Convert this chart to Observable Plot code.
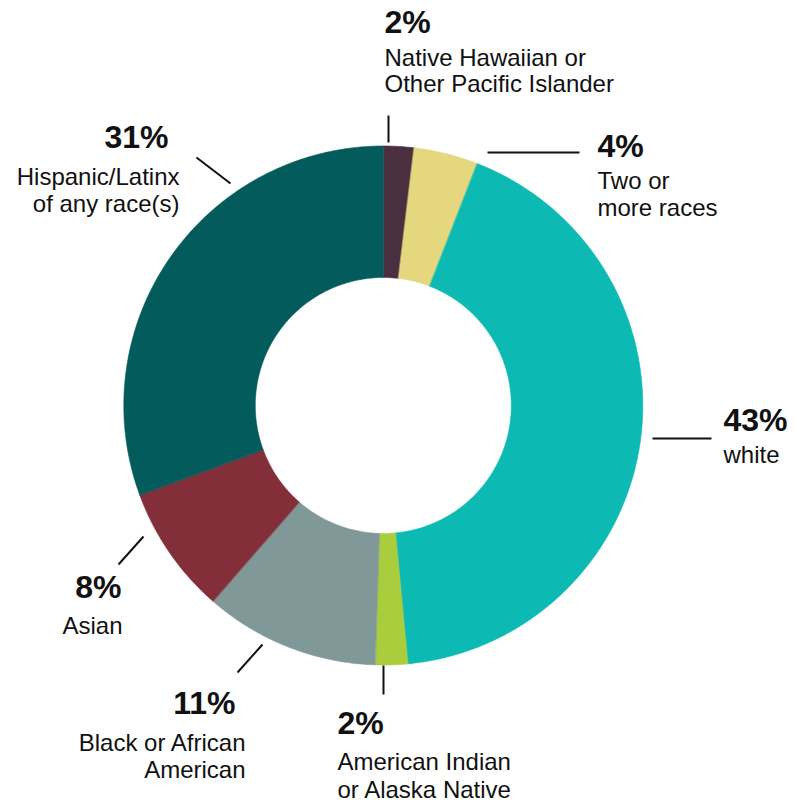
<!DOCTYPE html>
<html>
<head>
<meta charset="utf-8">
<script src="https://cdn.jsdelivr.net/npm/d3@7"></script>
<script src="https://cdn.jsdelivr.net/npm/@observablehq/plot@0.6"></script>
<style>
  html, body { margin: 0; padding: 0; background: #fff; }
  #chart svg { display: block; }
</style>
</head>
<body>
<div id="chart"></div>
<script>
// ---- data (clockwise from 12 o'clock) ----
const groups = [
  "Native Hawaiian or Other Pacific Islander",
  "Two or more races",
  "white",
  "American Indian or Alaska Native",
  "Black or African American",
  "Asian",
  "Hispanic/Latinx of any race(s)"
];
const shares = [1.9, 4.0, 42.6, 2.0, 10.9, 8.0, 30.6];
const pctLabels = ["2%", "4%", "43%", "2%", "11%", "8%", "31%"];
const labelLines = [
  ["Native Hawaiian or", "Other Pacific Islander"],
  ["Two or", "more races"],
  ["white"],
  ["American Indian", "or Alaska Native"],
  ["Black or African", "American"],
  ["Asian"],
  ["Hispanic/Latinx", "of any race(s)"]
];
const colors = ["#4a2f40", "#e4d77e", "#0dbab3", "#a9cd3d", "#819899", "#822f3a", "#045b5b"];

// ---- layout (styles / positions, not data) ----
const W = 804, H = 803;
const cx = 382.8, cy = 405, rOuter = 259.5, rInner = 128;
const layout = [
  {anchor: "start", px: 384, lx: 384, py: 32, ly: [65, 91], lead: [388, 115, 388, 142]},
  {anchor: "start", px: 597, lx: 597, py: 156, ly: [188, 215], lead: [487, 152, 579, 152]},
  {anchor: "start", px: 723, lx: 723, py: 430, ly: [462], lead: [652, 438, 711, 438]},
  {anchor: "start", px: 337, lx: 337, py: 733, ly: [769, 797], lead: [383, 665, 383, 694]},
  {anchor: "end", px: 235, lx: 245, py: 713, ly: [750, 777], lead: [262, 644, 237, 672]},
  {anchor: "end", px: 121, lx: 122, py: 597, ly: [633], lead: [143, 536, 118, 564]},
  {anchor: "end", px: 168, lx: 179, py: 147, ly: [184, 211], lead: [196, 157, 230, 183]}
];

// ---- build slice polygons from the shares ----
const total = d3.sum(shares);
const slicePts = [];
let acc = 0;
groups.forEach((g, i) => {
  const a0 = acc / total * 2 * Math.PI;
  acc += shares[i];
  const a1 = acc / total * 2 * Math.PI;
  const n = Math.max(4, Math.ceil((a1 - a0) / (Math.PI / 360)));
  const outer = d3.range(n + 1).map(k => a0 + (a1 - a0) * k / n);
  for (const a of outer) slicePts.push({group: g, x: cx + rOuter * Math.sin(a), y: cy - rOuter * Math.cos(a)});
  for (const a of outer.slice().reverse()) slicePts.push({group: g, x: cx + rInner * Math.sin(a), y: cy - rInner * Math.cos(a)});
});

const pctData = groups.map((g, i) => ({text: pctLabels[i], x: layout[i].px, y: layout[i].py, anchor: layout[i].anchor}));
const lineData = groups.flatMap((g, i) => labelLines[i].map((t, j) => ({text: t, x: layout[i].lx, y: layout[i].ly[j], anchor: layout[i].anchor})));
const leaders = layout.map(l => ({x1: l.lead[0], y1: l.lead[1], x2: l.lead[2], y2: l.lead[3]}));

const font = "'Liberation Sans', Arial, Helvetica, sans-serif";

const chart = Plot.plot({
  width: W,
  height: H,
  margin: 0,
  style: {fontFamily: font, background: "#fff"},
  x: {domain: [0, W], range: [0, W], axis: null},
  y: {domain: [0, H], range: [0, H], axis: null},
  color: {domain: groups, range: colors},
  marks: [
    Plot.line(slicePts, {x: "x", y: "y", z: "group", fill: "group", stroke: "group", strokeWidth: 0.6, curve: "linear-closed"}),
    Plot.link(leaders, {x1: "x1", y1: "y1", x2: "x2", y2: "y2", stroke: "#111", strokeWidth: 2}),
    Plot.text(pctData.filter(d => d.anchor === "start"), {x: "x", y: "y", text: "text", textAnchor: "start", lineAnchor: "bottom", fontSize: 32, fontWeight: "bold", fill: "#111"}),
    Plot.text(pctData.filter(d => d.anchor === "end"), {x: "x", y: "y", text: "text", textAnchor: "end", lineAnchor: "bottom", fontSize: 32, fontWeight: "bold", fill: "#111"}),
    Plot.text(lineData.filter(d => d.anchor === "start"), {x: "x", y: "y", text: "text", textAnchor: "start", lineAnchor: "bottom", fontSize: 24, fill: "#111"}),
    Plot.text(lineData.filter(d => d.anchor === "end"), {x: "x", y: "y", text: "text", textAnchor: "end", lineAnchor: "bottom", fontSize: 24, fill: "#111"})
  ]
});
document.getElementById("chart").appendChild(chart);
</script>
</body>
</html>
